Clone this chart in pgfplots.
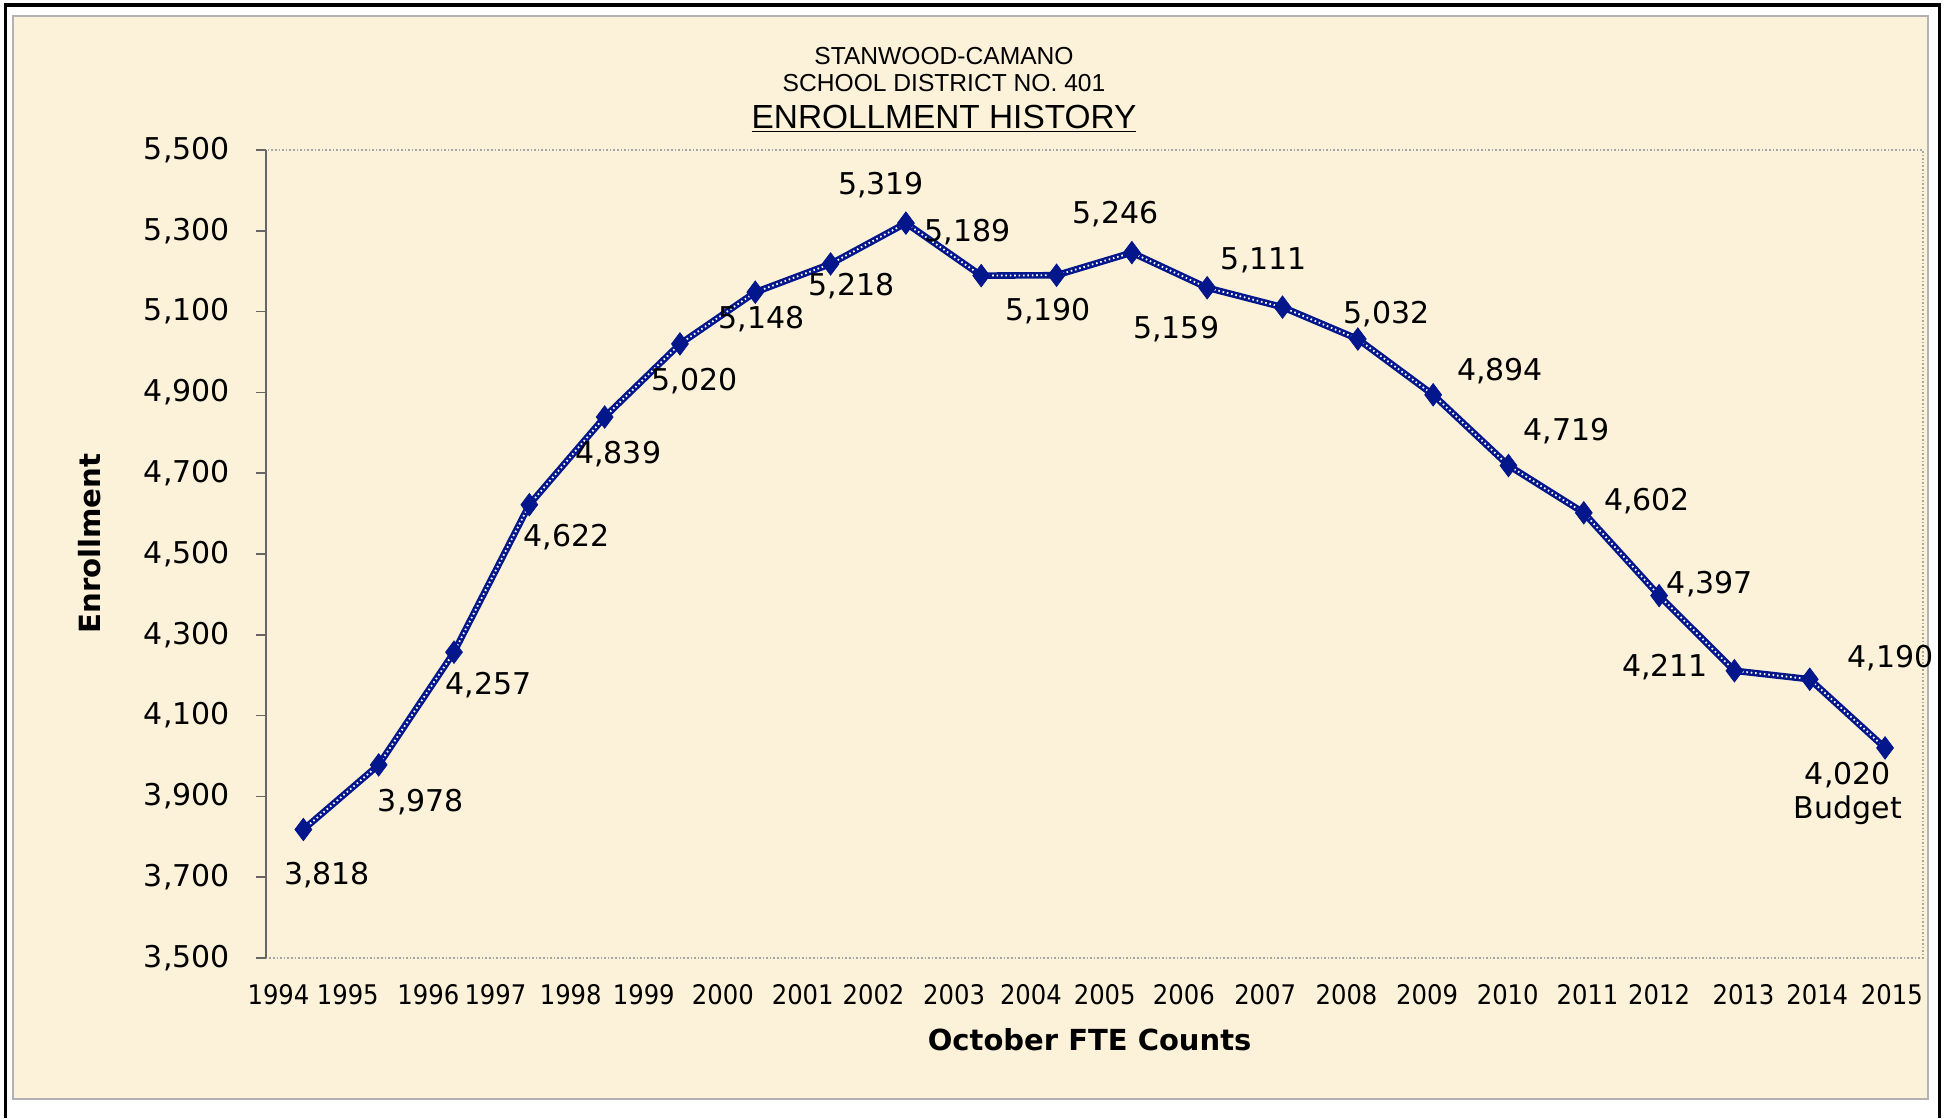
\documentclass[border=0pt]{standalone}
\usepackage{pgfplots}
\pgfplotsset{compat=1.18}
\usepackage{pgfplotstable}
\usepackage{fontspec}
\setmainfont{DejaVu Sans}
\newfontfamily\condfont{DejaVu Sans Condensed}
\newfontfamily\arialfont{Liberation Sans}
\definecolor{parch}{RGB}{252,242,218}
\definecolor{navy}{RGB}{4,22,140}
\pgfplotstableread{
x y dx dy
0 3818 11.8 -22.9
1 3978 21.1 -18.6
2 4257 17.4 -16.7
3 4622 18.6 -16.1
4 4839 6.8 -18.6
5 5020 7.4 -18.6
6 5148 3.1 -13.6
7 5218 10.5 -11.2
8 5319 -12.4 19.2
9 5189 -6.7 21.7
10 5190 -4.3 -18
11 5246 -8.1 19.2
12 5159 -15.5 -20.5
13 5111 -9.3 23.6
14 5032 14.3 12.4
15 4894 33.5 11.8
16 4719 29.1 17.4
17 4602 31.6 5.6
18 4397 25.4 5.6
19 4211 -34.7 1.9
20 4190 40.5 10.5
21 4020 -18.6 -13.6
}\enroll
\begin{document}
\begin{tikzpicture}
\useasboundingbox (0,0) rectangle (973pt,559pt);
\fill[white] (0,0) rectangle (973pt,559pt);
\fill[parch] (6.5pt,9.5pt) rectangle (964pt,551pt);
\draw[gray!60, line width=1pt] (6.5pt,9.5pt) rectangle (964pt,551pt);
\draw[black, line width=1.6pt] (2.8pt,0pt) -- (2.8pt,556.5pt) -- (969.8pt,556.5pt) -- (969.8pt,0pt);
\begin{axis}[
  at={(132.85pt,80pt)}, anchor=south west,
  scale only axis, width=828.5pt, height=404pt,
  xmin=-0.5, xmax=21.5, ymin=3500, ymax=5500,
  axis line style={draw=none},
  ytick={3500,3700,...,5500},
  ytick pos=left, xtick pos=bottom,
  xtick={-0.33,0.59,1.66,2.55,3.55,4.52,5.57,6.63,7.57,8.64,9.66,10.64,11.69,12.77,13.85,14.92,15.99,17.05,18.0,19.12,20.10,21.09},
  xticklabels={1994,1995,1996,1997,1998,1999,2000,2001,2002,2003,2004,2005,2006,2007,2008,2009,2010,2011,2012,2013,2014,2015},
  tick align=outside, major tick length=4.7pt,
  xtick style={draw=none},
  ytick style={gray!80!black, line width=0.8pt},
  yticklabel style={font=\fontsize{15}{18}\selectfont, xshift=-9.7pt},
  xticklabel style={font=\condfont\fontsize{13.5}{16}\selectfont, anchor=center, yshift=-13.8pt},
  /pgf/number format/.cd, 1000 sep={,}, assume math mode=true,
  /pgfplots/.cd,
  clip=false,
]
\draw[gray!70, densely dotted, line width=0.8pt] (rel axis cs:0,0) -- (rel axis cs:1,0) -- (rel axis cs:1,1) -- (rel axis cs:0,1);
\draw[gray!80!black, line width=0.9pt] (rel axis cs:0,0) -- (rel axis cs:0,1);
\addplot[navy, line width=3.3pt, no markers] table[x=x,y=y] {\enroll};
\addplot[white, line width=0.9pt, dash pattern=on 0.8pt off 1.4pt, no markers] table[x=x,y=y] {\enroll};
\addplot[only marks, mark=diamond*, mark size=5.6pt, navy, mark options={fill=navy, draw=navy},
  point meta=explicit,
  visualization depends on={\thisrow{dx} \as \dx},
  visualization depends on={\thisrow{dy} \as \dy},
  nodes near coords,
  every node near coord/.append style={text=black, font=\fontsize{15}{18}\selectfont, anchor=center, xshift=\dx pt, yshift=\dy pt},
] table[x=x,y=y,meta=y] {\enroll};
\node[font=\fontsize{15}{18}\selectfont, anchor=center] at (axis cs:21,4020) [xshift=-18.6pt, yshift=-31pt] {Budget};
\end{axis}
\node[font=\arialfont\fontsize{12.3}{14}\selectfont] at (472pt,531pt) {STANWOOD-CAMANO};
\node[font=\arialfont\fontsize{12.3}{14}\selectfont] at (472pt,517.5pt) {SCHOOL DISTRICT NO. 401};
\node[font=\arialfont\fontsize{16.7}{19}\selectfont] at (472pt,499.5pt) {\underline{ENROLLMENT HISTORY}};
\node[font=\bfseries\fontsize{14.5}{17}\selectfont] at (544.8pt,39pt) {October FTE Counts};
\node[font=\bfseries\fontsize{14.6}{17}\selectfont, rotate=90] at (44.7pt,287.2pt) {Enrollment};
\end{tikzpicture}
\end{document}
